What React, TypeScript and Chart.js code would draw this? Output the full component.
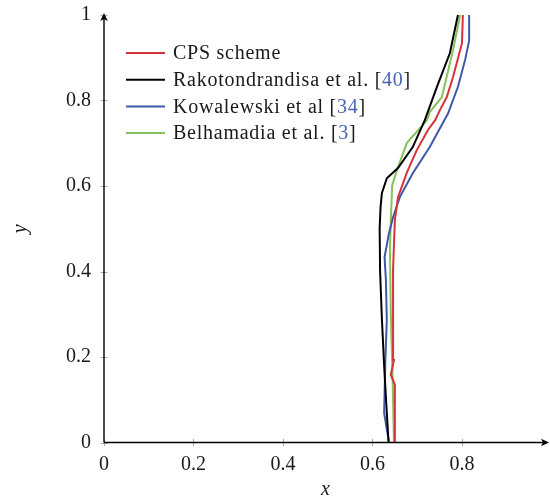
import { useEffect, useRef } from 'react';
import { Chart, registerables } from 'chart.js';

Chart.register(...registerables);

const SERIES_NAMES = ['CPS scheme', 'Rakotondrandisa et al.', 'Kowalewski et al', 'Belhamadia et al.'];
const SERIES_REFS = ['', '40', '34', '3'];
const SERIES_COLORS = ['#d5333a', '#000000', '#3f58aa', '#86c25b'];
const REF_COLOR = '#4a63b5';

const CPS_X = [0.650, 0.650, 0.641, 0.648, 0.646, 0.646, 0.650, 0.657, 0.677, 0.699, 0.724, 0.740, 0.751, 0.766, 0.780, 0.800, 0.802];
const CPS_Y = [0.000, 0.135, 0.158, 0.193, 0.263, 0.404, 0.520, 0.574, 0.632, 0.684, 0.731, 0.754, 0.778, 0.808, 0.855, 0.934, 1.000];

const RAKO_X = [0.636, 0.632, 0.626, 0.621, 0.617, 0.616, 0.618, 0.621, 0.632, 0.657, 0.690, 0.717, 0.744, 0.773, 0.791];
const RAKO_Y = [0.000, 0.069, 0.180, 0.290, 0.400, 0.500, 0.550, 0.583, 0.618, 0.642, 0.691, 0.754, 0.832, 0.911, 1.000];

const KOWA_X = [0.637, 0.626, 0.629, 0.632, 0.630, 0.627, 0.637, 0.646, 0.661, 0.690, 0.728, 0.769, 0.791, 0.807, 0.816, 0.816];
const KOWA_Y = [0.000, 0.069, 0.200, 0.287, 0.380, 0.434, 0.490, 0.527, 0.574, 0.630, 0.691, 0.770, 0.832, 0.895, 0.940, 1.000];

const BELH_X = [0.648, 0.645, 0.641, 0.639, 0.641, 0.644, 0.657, 0.677, 0.722, 0.728, 0.755, 0.780, 0.796];
const BELH_Y = [0.000, 0.150, 0.300, 0.450, 0.520, 0.602, 0.644, 0.701, 0.754, 0.773, 0.808, 0.918, 1.000];

const X_TICKS = [0, 0.2, 0.4, 0.6, 0.8];
const Y_TICKS = [0, 0.2, 0.4, 0.6, 0.8, 1];
const X_MIN = 0;
const X_MAX = 0.99;
const Y_MIN = 0;
const Y_MAX = 1;

const FONT = '"Liberation Serif", "Times New Roman", serif';

const toPoints = (xs: number[], ys: number[]) => xs.map((x, i) => ({ x, y: ys[i] }));

const axesPlugin = {
  id: 'axesPlugin',
  beforeDatasetsDraw(chart: any) {
    const { ctx, chartArea, scales } = chart;
    const { left, bottom } = chartArea;
    ctx.save();
    ctx.strokeStyle = '#a8a8a8';
    ctx.lineWidth = 1;
    X_TICKS.forEach((v) => {
      const px = Math.round(scales.x.getPixelForValue(v)) + 0.5;
      ctx.beginPath();
      ctx.moveTo(px, bottom - 3.5);
      ctx.lineTo(px, bottom + 3.5);
      ctx.stroke();
    });
    Y_TICKS.forEach((v) => {
      const py = Math.round(scales.y.getPixelForValue(v)) + 0.5;
      ctx.beginPath();
      ctx.moveTo(left - 3.5, py);
      ctx.lineTo(left + 3.5, py);
      ctx.stroke();
    });
    ctx.restore();
  },
  afterDatasetsDraw(chart: any) {
    const { ctx, chartArea } = chart;
    const { left, right, top, bottom } = chartArea;
    ctx.save();
    ctx.strokeStyle = '#000';
    ctx.fillStyle = '#000';
    ctx.lineWidth = 1.4;
    ctx.beginPath();
    ctx.moveTo(left, bottom);
    ctx.lineTo(right - 3, bottom);
    ctx.moveTo(left, bottom);
    ctx.lineTo(left, top + 3);
    ctx.stroke();
    ctx.beginPath();
    ctx.moveTo(right + 2, bottom);
    ctx.lineTo(right - 6, bottom - 3.8);
    ctx.lineTo(right - 4, bottom);
    ctx.lineTo(right - 6, bottom + 3.8);
    ctx.closePath();
    ctx.fill();
    ctx.beginPath();
    ctx.moveTo(left, top - 2);
    ctx.lineTo(left - 3.8, top + 6);
    ctx.lineTo(left, top + 4);
    ctx.lineTo(left + 3.8, top + 6);
    ctx.closePath();
    ctx.fill();
    ctx.restore();
  },
};

const legendPlugin = {
  id: 'innerLegend',
  afterDraw(chart: any) {
    const { ctx, chartArea } = chart;
    const x0 = chartArea.left + 22;
    const lineLen = 39;
    const textX = x0 + 47;
    const rowY0 = chartArea.top + 38;
    const rowGap = 26.7;
    ctx.save();
    ctx.font = `20px ${FONT}`;
    (ctx as any).letterSpacing = '0.75px';
    ctx.textBaseline = 'middle';
    ctx.textAlign = 'left';
    chart.data.datasets.forEach((ds: any, i: number) => {
      const y = rowY0 + i * rowGap;
      ctx.strokeStyle = ds.borderColor;
      ctx.lineWidth = 2;
      ctx.beginPath();
      ctx.moveTo(x0, y);
      ctx.lineTo(x0 + lineLen, y);
      ctx.stroke();
      let tx = textX;
      const ty = y + 1;
      ctx.fillStyle = '#1a1a1a';
      const name = SERIES_NAMES[i];
      ctx.fillText(name, tx, ty);
      tx += ctx.measureText(name).width;
      const ref = SERIES_REFS[i];
      if (ref) {
        tx += ctx.measureText(' ').width;
        ctx.fillText('[', tx, ty);
        tx += ctx.measureText('[').width;
        ctx.fillStyle = REF_COLOR;
        ctx.fillText(ref, tx, ty);
        tx += ctx.measureText(ref).width;
        ctx.fillStyle = '#1a1a1a';
        ctx.fillText(']', tx, ty);
      }
    });
    ctx.restore();
  },
};

export default function App() {
  const canvasRef = useRef<HTMLCanvasElement | null>(null);

  useEffect(() => {
    if (!canvasRef.current) return;
    const series = [
      toPoints(CPS_X, CPS_Y),
      toPoints(RAKO_X, RAKO_Y),
      toPoints(KOWA_X, KOWA_Y),
      toPoints(BELH_X, BELH_Y),
    ];
    const chart = new Chart(canvasRef.current, {
      type: 'scatter',
      data: {
        datasets: series.map((pts, i) => ({
          label: SERIES_NAMES[i] + (SERIES_REFS[i] ? ` [${SERIES_REFS[i]}]` : ''),
          data: pts,
          showLine: true,
          borderColor: SERIES_COLORS[i],
          backgroundColor: SERIES_COLORS[i],
          borderWidth: 2,
          pointRadius: 0,
          pointHoverRadius: 0,
          tension: 0,
          clip: 4,
        })),
      },
      plugins: [axesPlugin, legendPlugin],
      options: {
        responsive: false,
        animation: false,
        layout: { padding: { top: 15, right: 3, left: 0, bottom: 0 } },
        plugins: {
          legend: { display: false },
          tooltip: { enabled: false },
        },
        scales: {
          x: {
            type: 'linear',
            min: X_MIN,
            max: X_MAX,
            afterBuildTicks: (scale: any) => {
              scale.ticks = X_TICKS.map((v) => ({ value: v }));
            },
            afterFit: (scale: any) => {
              scale.height = 53.5;
            },
            grid: { display: false, drawTicks: false },
            border: { display: false },
            ticks: {
              padding: 10,
              color: '#1a1a1a',
              font: { family: FONT, size: 20 },
              callback: (v: any) => String(Math.round(Number(v) * 10) / 10),
            },
            title: {
              display: true,
              text: 'x',
              color: '#1a1a1a',
              font: { family: FONT, size: 20, style: 'italic', lineHeight: 1 },
              padding: { top: 0, bottom: -4 },
            },
          },
          y: {
            type: 'linear',
            min: Y_MIN,
            max: Y_MAX,
            afterBuildTicks: (scale: any) => {
              scale.ticks = Y_TICKS.map((v) => ({ value: v }));
            },
            afterFit: (scale: any) => {
              scale.width = 104;
              scale.paddingTop = 0;
              scale.paddingBottom = 0;
            },
            grid: { display: false, drawTicks: false },
            border: { display: false },
            ticks: {
              padding: 13,
              color: '#1a1a1a',
              font: { family: FONT, size: 20, lineHeight: 0.6 },
              callback: (v: any) => String(Math.round(Number(v) * 10) / 10),
            },
            title: {
              display: true,
              text: 'y',
              color: '#1a1a1a',
              font: { family: FONT, size: 20, style: 'italic' },
              padding: { top: 9, bottom: 0 },
            },
          },
        },
      },
    });
    return () => chart.destroy();
  }, []);

  return (
    <div style={{ position: 'absolute', left: 0, top: 0, width: 550, height: 496, background: '#fff' }}>
      <canvas ref={canvasRef} width={550} height={496} style={{ display: 'block' }} />
    </div>
  );
}
